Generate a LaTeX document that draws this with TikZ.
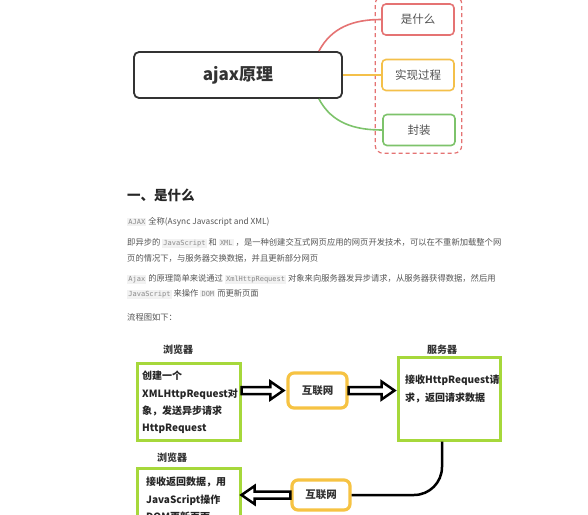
\documentclass[tikz,border=0pt]{standalone}
\usepackage{fontspec}
\setmainfont{Noto Sans CJK SC}
\setmonofont{DejaVu Sans Mono}
\usetikzlibrary{calc,fit}
\definecolor{mmred}{HTML}{E57373}
\definecolor{mmorange}{HTML}{F4C04A}
\definecolor{mmgreen}{HTML}{7DC36B}
\definecolor{lime}{HTML}{A6D83B}
\definecolor{netor}{HTML}{F6C343}
\definecolor{bodygray}{HTML}{555555}
\definecolor{codebg}{HTML}{F2F2F2}
\definecolor{codefg}{HTML}{8A8A8A}
\definecolor{darktext}{HTML}{333333}
\newcommand\cd[1]{\begingroup\setlength\fboxsep{1.2pt}\colorbox{codebg}{\ttfamily\fontsize{7}{8}\selectfont\color{codefg}#1}\endgroup}
\newcommand\harrow[2]{%
  \draw[hollow] ($(#1)+(0,-3.5)$) -- ($(#2)!13pt!(#1)+(0,-3.5)$) -- ($(#2)!13pt!(#1)+(0,-9)$) -- (#2) -- ($(#2)!13pt!(#1)+(0,9)$) -- ($(#2)!13pt!(#1)+(0,3.5)$) -- ($(#1)+(0,3.5)$) -- cycle;}
\begin{document}
\begin{tikzpicture}[x=1pt,y=-1pt,
  mainbox/.style={draw=darktext, fill=white, line width=1.8pt, rounded corners=5pt, minimum width=208pt, minimum height=46pt, inner sep=0pt, font=\fontsize{17}{20}\selectfont\bfseries, text=darktext},
  leaf/.style={fill=white, line width=1.6pt, rounded corners=4pt, minimum width=72pt, minimum height=31pt, inner sep=0pt, font=\fontsize{11.5}{13}\selectfont, text=darktext!85},
  mmline/.style={line width=1.6pt},
  body/.style={anchor=west, inner sep=0pt, font=\fontsize{8.3}{10}\selectfont, text=bodygray},
  gbox/.style={draw=lime, line width=3pt, fill=white, inner sep=0pt},
  netbox/.style={draw=netor, line width=3.2pt, rounded corners=6pt, fill=white, inner sep=0pt, font=\fontsize{10.5}{12}\selectfont\bfseries, text=darktext},
  lab/.style={inner sep=0pt, font=\fontsize{10}{12}\selectfont\bfseries, text=darktext},
  ftext/.style={inner sep=0pt, align=left, font=\fontsize{10}{17.3}\selectfont\bfseries, text=black!85},
  hollow/.style={draw=black, fill=white, line width=2.5pt, line join=miter}
]
\useasboundingbox (0,0) rectangle (588,514);
\clip (0,0) rectangle (588,514);
\fill[white] (0,0) rectangle (588,514);

% mind map
\node[mainbox] (main) at (238,75) {ajax原理};
\node[leaf, draw=mmred] (w1) at (418,19.5) {是什么};
\node[leaf, draw=mmorange] (w2) at (418,75) {实现过程};
\node[leaf, draw=mmgreen] (w3) at (419,130) {封装};
\node[draw=mmred, dashed, dash pattern=on 4pt off 3pt, line width=1.2pt, rounded corners=8pt, fit=(w1)(w2)(w3), inner xsep=6pt, inner ysep=7pt] (grp) {};
\draw[mmline, mmred] ($(main.north east)+(-24,0)$) to[out=62,in=180] (w1.west);
\draw[mmline, mmorange] (main.east) -- (w2.west);
\draw[mmline, mmgreen] ($(main.south east)+(-24,0)$) to[out=-62,in=180] (w3.west);

% text section
\node[anchor=west, inner sep=0pt, font=\fontsize{13.5}{16}\selectfont\bfseries, text=black!85] (h1) at (127,195) {一、是什么};
\node[body] (t0) at (127,222) {\cd{AJAX} 全称(Async Javascript and XML)};
\node[body] (t1) at (127,243) {即异步的 \cd{JavaScript} 和 \cd{XML} ，是一种创建交互式网页应用的网页开发技术，可以在不重新加载整个网};
\node[body] (t2) at (127,258) {页的情况下，与服务器交换数据，并且更新部分网页};
\node[body] (t3) at (127,279) {\cd{Ajax} 的原理简单来说通过 \cd{XmlHttpRequest} 对象来向服务器发异步请求，从服务器获得数据，然后用};
\node[body] (t4) at (127,294) {\cd{JavaScript} 来操作 \cd{DOM} 而更新页面};
\node[body] (t5) at (127,317) {流程图如下：};

% flow chart
\node[gbox, minimum width=103pt, minimum height=77pt] (b1) at (188.5,401.5) {};
\node[gbox, minimum width=102pt, minimum height=83pt] (srv) at (449,398.5) {};
\node[gbox, minimum width=103pt, minimum height=80pt, anchor=north] (b2) at (188.5,467) {};
\node[netbox, minimum width=59pt, minimum height=35pt] (n1) at (317.5,390.5) {互联网};
\node[netbox, minimum width=58pt, minimum height=30pt] (n2) at (321,495) {互联网};

\node[lab] (l1) at (178,350) {浏览器};
\node[lab] (l2) at (442,350) {服务器};
\node[lab] (l3) at (172,458) {浏览器};

\node[ftext, anchor=west] (x1) at (142,402.5) {创建一个\\XMLHttpRequest对\\象，发送异步请求\\HttpRequest};
\node[ftext, anchor=north west] (x2) at (405,375) {接收HttpRequest请\\求，返回请求数据};
\node[ftext, anchor=north west] (x3) at (146,477) {接收返回数据，用\\JavaScript操作\\DOM更新页面};

\coordinate (a1s) at (b1.east |- n1.west);
\coordinate (a1e) at ($(n1.west)+(-3,0)$);
\coordinate (a2e) at ($(srv.west |- n1.east)+(-2,0)$);
\coordinate (a3e) at (b2.east |- n2.west);
\harrow{a1s}{a1e}
\harrow{n1.east}{a2e}
\harrow{n2.west}{a3e}
\draw[line width=2.5pt, rounded corners=28pt] ($(srv.south)+(-7,0)$) |- (n2.east);
\end{tikzpicture}
\end{document}
